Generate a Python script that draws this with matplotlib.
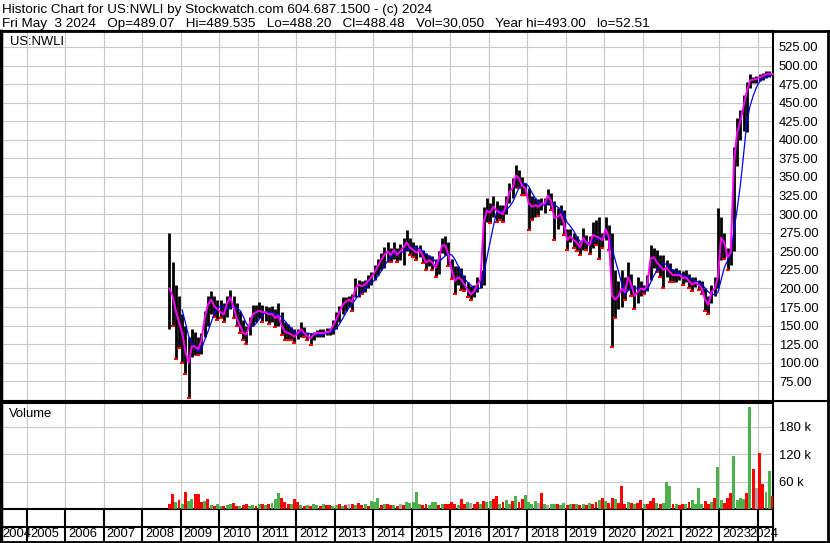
import numpy as np
import pandas as pd
import matplotlib
matplotlib.use("Agg")
import matplotlib.pyplot as plt
from matplotlib.ticker import FuncFormatter

plt.rcParams["font.family"] = ["Liberation Sans", "DejaVu Sans"]
plt.rcParams["font.size"] = 9

# monthly bars, Sep 2008 .. May 2024
START_YEAR, START_MONTH = 2008, 9

highs = [
    275, 235, 205, 190,
    165, 150, 135, 145, 142, 135, 140, 170, 190, 197, 190, 185,
    185, 180, 190, 198, 190, 180, 170, 158, 150, 162, 178, 178,
    182, 178, 176, 175, 176, 172, 181, 168, 155, 152, 148, 145,
    146, 155, 148, 142, 140, 142, 144, 146, 145, 147, 147, 158,
    168, 176, 188, 188, 190, 193, 214, 212, 210, 212, 218, 222,
    232, 240, 248, 256, 262, 254, 263, 255, 260, 268, 278, 268,
    262, 258, 258, 252, 248, 245, 244, 240, 250, 268, 270, 262,
    240, 230, 230, 228, 218, 208, 203, 205, 215, 225, 310, 322,
    315, 325, 318, 312, 312, 325, 342, 348, 366, 360, 350, 342,
    335, 325, 322, 320, 322, 322, 334, 328, 318, 308, 312, 306,
    280, 280, 275, 270, 262, 282, 272, 270, 290, 292, 296, 275,
    296, 285, 275, 225, 210, 225, 215, 235, 220, 205, 215, 210,
    205, 218, 258, 255, 252, 245, 245, 238, 234, 226, 227, 225,
    223, 225, 220, 215, 215, 212, 210, 200, 190, 205, 215, 308,
    296, 275, 255, 265, 390, 430, 440, 460, 478, 488, 485, 486,
    488, 490, 493, 492, 489.5,
]
lows = [
    145, 150, 105, 120,
    100, 85, 52.5, 108, 110, 110, 112, 135, 150, 165, 162, 158,
    160, 155, 162, 172, 160, 150, 140, 130, 125, 138, 150, 155,
    160, 155, 156, 152, 155, 148, 150, 138, 130, 130, 130, 127,
    132, 135, 134, 130, 124, 130, 134, 135, 134, 137, 137, 139,
    145, 155, 165, 170, 175, 170, 188, 188, 192, 195, 200, 205,
    212, 218, 225, 228, 236, 236, 240, 235, 238, 232, 250, 245,
    242, 238, 242, 234, 225, 230, 225, 216, 220, 248, 245, 230,
    213, 192, 205, 198, 197, 188, 184, 188, 195, 200, 205, 290,
    288, 296, 290, 292, 290, 300, 315, 322, 335, 335, 326, 326,
    278, 292, 296, 298, 305, 302, 312, 305, 265, 280, 285, 272,
    252, 262, 255, 250, 245, 252, 252, 246, 255, 258, 240, 255,
    265, 252, 121, 160, 172, 175, 185, 198, 190, 172, 180, 190,
    192, 196, 212, 228, 222, 215, 200, 215, 208, 208, 208, 212,
    205, 208, 200, 196, 202, 198, 193, 170, 166, 180, 190, 200,
    238, 240, 225, 232, 250, 365, 400, 412, 410, 470, 476, 477,
    479, 481, 483, 484, 488.2,
]
closes = [
    200, 190, 170, 155,
    140, 115, 100, 122, 122, 118, 130, 160, 178, 185, 176, 172,
    168, 165, 180, 188, 175, 160, 150, 140, 138, 152, 165, 168,
    170, 168, 168, 165, 166, 160, 163, 150, 142, 140, 138, 135,
    140, 145, 140, 136, 133, 138, 140, 140, 140, 141, 142, 150,
    158, 168, 178, 182, 185, 182, 200, 205, 203, 205, 210, 215,
    222, 230, 238, 245, 250, 245, 252, 245, 250, 255, 262, 255,
    252, 248, 252, 244, 235, 238, 235, 228, 240, 258, 258, 245,
    225, 210, 215, 212, 205, 198, 192, 196, 205, 212, 290, 305,
    302, 310, 305, 302, 300, 312, 330, 335, 352, 348, 338, 335,
    315, 310, 312, 310, 314, 314, 325, 318, 295, 296, 300, 288,
    265, 270, 265, 262, 255, 268, 262, 258, 272, 270, 268, 265,
    280, 270, 190, 185, 190, 200, 195, 215, 205, 190, 195, 200,
    198, 205, 240, 242, 235, 230, 225, 228, 222, 218, 218, 218,
    214, 215, 210, 205, 208, 205, 200, 185, 178, 195, 200, 215,
    268, 262, 242, 248, 370, 410, 425, 445, 465, 480, 481, 482,
    484, 486, 488, 489, 488.5,
]
volume_k = [
    12, 32, 16, 20,
    12, 37, 18, 22, 32, 32, 15, 18, 21, 8, 7, 10,
    6, 7, 8, 12, 14, 7, 6, 8, 12, 6, 9, 7,
    10, 12, 8, 10, 14, 22, 35, 25, 15, 12, 10, 21,
    15, 8, 6, 9, 7, 10, 8, 6, 10, 8, 9, 7,
    8, 10, 7, 9, 12, 11, 9, 14, 8, 10, 7, 18,
    15, 23, 8, 12, 10, 8, 9, 7, 10, 9, 16, 14,
    16, 37, 10, 8, 12, 9, 15, 16, 9, 10, 12, 10,
    15, 10, 9, 21, 12, 15, 14, 12, 16, 11, 18, 16,
    18, 22, 28, 10, 15, 20, 12, 18, 28, 16, 22, 30,
    16, 12, 18, 14, 35, 10, 9, 11, 10, 12, 9, 14,
    8, 10, 12, 10, 9, 11, 9, 14, 12, 16, 20, 25,
    18, 14, 25, 22, 14, 51, 12, 16, 14, 10, 14, 20,
    10, 12, 18, 24, 14, 12, 14, 60, 51, 10, 12, 9,
    10, 12, 16, 20, 12, 46, 12, 18, 12, 15, 25, 92,
    20, 14, 24, 35, 116, 20, 25, 22, 35, 224, 88, 46,
    122, 55, 37, 83, 28,
]
# g = up, r = down, n = unchanged
volume_dir = (
    "rrgr" "grggrrrgrgrg" "grggrrgrrggr" "grgrgggrrrgr" "rgrgrggrgrrg"
    "grgrnrgrrgrg" "ggrgrrgrnrgg" "gggrrgggrgrr" "rrgrrgnrrgrg" "grrgrggrgrrg"
    "gggnrgnggrgg" "rgrgrgrgrrgr" "grrgrrrgrgrr" "grrrgrgggrgr" "rgrggggrrgrg"
    "grrrggggrgrn" "rrggr"
)
years = list(range(2004, 2025))

n = len(closes)
months = pd.period_range(f"{START_YEAR}-{START_MONTH:02d}", periods=n, freq="M")
x = np.array([p.year + (p.month - 0.5) / 12 for p in months])
ma_long = pd.Series(closes).rolling(5).mean()

XMIN, XMAX = 2004.36, 2024.39
W, H = 830, 543
GRID = "#c8c8c8"
VOL_COL = {"g": "#4cb04c", "r": "#ff0000", "n": "#a8a8a8"}


def fr(px_left, px_top, px_right, px_bottom):
    return [px_left / W, 1 - px_bottom / H, (px_right - px_left) / W, (px_bottom - px_top) / H]


fig = plt.figure(figsize=(W / 100, H / 100), dpi=100)

# price panel
ax = fig.add_axes(fr(2, 31, 773, 401))
ax.vlines(x, lows, highs, color="black", lw=2.0, zorder=3)
down = [i for i in range(1, n) if closes[i] < closes[i - 1]]
ax.plot(x[down], np.array(lows)[down], ls="none", marker="_", ms=3, mew=1.5,
        color="red", zorder=4)
ax.plot(x, ma_long, color="#0000ff", lw=0.9, zorder=5)
ax.plot(x, closes, color="#ff00ff", lw=1.4, zorder=6)
ax.set_xlim(XMIN, XMAX)
ax.set_ylim(48.5, 546.5)
ax.set_xticks(years[1:])
ax.set_yticks(range(50, 526, 25))
ax.yaxis.tick_right()
ax.yaxis.set_major_formatter(FuncFormatter(lambda v, p: "" if v < 70 else f"{v:.2f}"))
ax.tick_params(axis="x", length=0, labelbottom=False)
ax.tick_params(axis="y", length=0, pad=4.3, labelsize=9.4)
ax.grid(color=GRID, lw=0.8)
ax.set_axisbelow(True)
for s in ax.spines.values():
    s.set_linewidth(1.5)
ax.text(0.011, 0.970, "US:NWLI", transform=ax.transAxes, ha="left", va="center", fontsize=9.4)

# volume panel
axv = fig.add_axes(fr(2, 403, 773, 509))
cols = [VOL_COL[c] for c in volume_dir]
axv.bar(x, np.array(volume_k) * 1000, width=0.92 / 12, color=cols, zorder=3)
axv.set_xlim(XMIN, XMAX)
axv.set_ylim(0, 232000)
axv.set_xticks(years[1:])
axv.set_yticks([60000, 120000, 180000])
axv.yaxis.tick_right()
axv.yaxis.set_major_formatter(FuncFormatter(lambda v, p: f"{int(v / 1000)} k"))
axv.tick_params(axis="x", length=0, labelbottom=False)
axv.tick_params(axis="y", length=0, pad=4.3, labelsize=9.4)
axv.grid(color=GRID, lw=0.8)
axv.set_axisbelow(True)
for s in axv.spines.values():
    s.set_linewidth(1.5)
axv.text(0.009, 0.9, "Volume", transform=axv.transAxes, ha="left", va="center", fontsize=9.4)

# year strip
axb = fig.add_axes(fr(2, 509, 773, 543))
axb.set_xlim(XMIN, XMAX)
axb.set_ylim(0, 1)
axb.axis("off")
axb.vlines(years[1:], 0, 1, color="black", lw=1.5)
axb.axhline(16 / 34, color="black", lw=1.5)
for yr in years:
    lo, hi = max(yr, XMIN), min(yr + 1, XMAX)
    if yr == years[0]:
        # first cell is clipped by the frame: keep the label inside it
        axb.text(0.0, 9 / 34, str(yr), transform=axb.get_yaxis_transform(),
                 ha="left", va="center", fontsize=9.4)
        continue
    axb.text((lo + hi) / 2 - 0.04, 9 / 34, str(yr), ha="center", va="center",
             fontsize=9.4, clip_on=False)

# frame and header in pixel coordinates
ov = fig.add_axes([0, 0, 1, 1])
ov.set_xlim(0, W)
ov.set_ylim(H, 0)
ov.axis("off")
ov.plot([0, W], [31, 31], color="black", lw=2)
ov.plot([1, 1], [31, H], color="black", lw=2.5)
ov.plot([828, 828], [31, H], color="black", lw=2)
ov.plot([0, W], [542, 542], color="black", lw=2)
ov.plot([773, W], [401, 401], color="black", lw=1.5)
ov.plot([773, 773], [509, H], color="black", lw=1.5)
ov.text(2, 13, "Historic Chart for US:NWLI by Stockwatch.com 604.687.1500 - (c) 2024",
        ha="left", va="baseline", fontsize=9.7)
ov.text(2, 27, "Fri May  3 2024   Op=489.07   Hi=489.535   Lo=488.20   Cl=488.48   "
        "Vol=30,050   Year hi=493.00   lo=52.51", ha="left", va="baseline", fontsize=9.7)

fig.savefig("out.png", dpi=100)
